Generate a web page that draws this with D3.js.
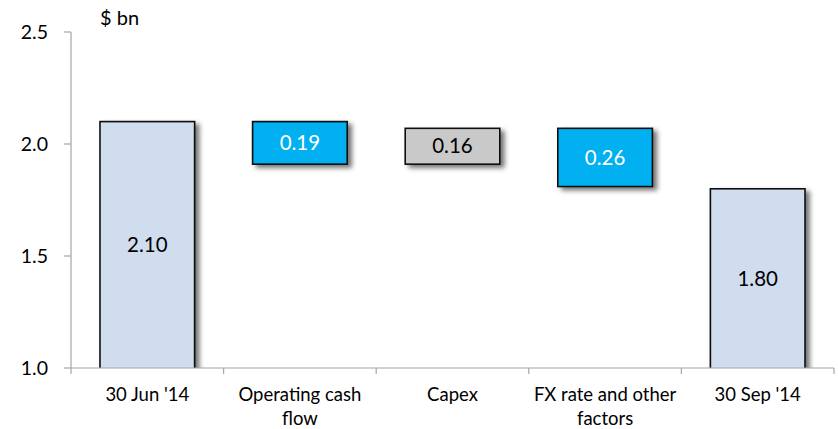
<!DOCTYPE html>
<html>
<head>
<meta charset="utf-8">
<script src="https://cdn.jsdelivr.net/npm/d3@7"></script>
<style>
  html, body { margin: 0; padding: 0; background: #fff; }
  svg text { font-family: Lato, "Open Sans", sans-serif; }
</style>
</head>
<body>
<svg id="chart" width="838" height="429"></svg>
<script>
// Cash bridge, $ bn
const categories = ["30 Jun '14", "Operating cash flow", "Capex", "FX rate and other factors", "30 Sep '14"];
const labelLines = [["30 Jun '14"], ["Operating cash", "flow"], ["Capex"], ["FX rate and other", "factors"], ["30 Sep '14"]];
const kinds = ["total", "down", "up", "down", "total"];
const values = [2.10, 0.19, 0.16, 0.26, 1.80];
const yTicks = [1.0, 1.5, 2.0, 2.5];
const fills = { total: "#CFDDEE", down: "#00B0F0", up: "#C9C9C9" };
const textFills = { total: "#000", down: "#fff", up: "#000" };

// Build floating segments from the running balance
let running = 0;
const bars = categories.map((c, i) => {
  const v = values[i], k = kinds[i];
  let lo, hi;
  if (k === "total") { lo = 1.0; hi = v; running = v; }
  else if (k === "down") { hi = running; lo = running - v; running = lo; }
  else { lo = running; hi = running + v; running = hi; }
  return { cat: c, lines: labelLines[i], kind: k, value: v, lo, hi };
});

const svg = d3.select("#chart");
const margin = { left: 71, right: 4, top: 32, bottom: 61 };
const W = 838, H = 429;

const x = d3.scaleBand().domain(categories).range([margin.left, W - margin.right]).paddingInner(0.38).paddingOuter(0.19);
const y = d3.scaleLinear().domain([1.0, 2.5]).range([H - margin.bottom, margin.top]);

// Soft drop shadow beneath each bar
const defs = svg.append("defs");
const f = defs.append("filter").attr("id", "shadow").attr("x", "-20%").attr("y", "-20%").attr("width", "150%").attr("height", "150%");
f.append("feGaussianBlur").attr("in", "SourceAlpha").attr("stdDeviation", 2.6).attr("result", "b");
f.append("feOffset").attr("in", "b").attr("dx", 4).attr("dy", 3).attr("result", "o");
f.append("feComponentTransfer").attr("in", "o").attr("result", "s")
  .append("feFuncA").attr("type", "linear").attr("slope", 0.55);
const m = f.append("feMerge");
m.append("feMergeNode").attr("in", "s");
m.append("feMergeNode").attr("in", "SourceGraphic");

const clip = defs.append("clipPath").attr("id", "plotclip");
clip.append("rect").attr("x", 0).attr("y", 0).attr("width", W).attr("height", y(1.0));

// Bars
const g = svg.append("g").attr("clip-path", "url(#plotclip)");
g.selectAll("rect.bar").data(bars).join("rect")
  .attr("class", "bar")
  .attr("x", d => x(d.cat))
  .attr("width", x.bandwidth())
  .attr("y", d => y(d.hi))
  .attr("height", d => y(d.lo) - y(d.hi) + (d.kind === "total" ? 6 : 0))
  .attr("fill", d => fills[d.kind])
  .attr("stroke", "#111")
  .attr("stroke-width", 1.6)
  .attr("filter", "url(#shadow)");

// Value labels
svg.selectAll("text.val").data(bars).join("text")
  .attr("class", "val")
  .attr("x", d => x(d.cat) + x.bandwidth() / 2)
  .attr("y", d => (y(d.lo) + y(d.hi)) / 2)
  .attr("dy", "0.35em")
  .attr("text-anchor", "middle")
  .attr("font-size", 20.5)
  .attr("fill", d => textFills[d.kind])
  .text(d => d.value.toFixed(2));

// Y axis
const axisColor = "#A6A6A6";
svg.append("line").attr("x1", margin.left).attr("x2", margin.left)
  .attr("y1", y(2.5)).attr("y2", y(1.0)).attr("stroke", axisColor).attr("stroke-width", 1.2);
svg.selectAll("line.ytick").data(yTicks).join("line")
  .attr("x1", margin.left - 7).attr("x2", margin.left)
  .attr("y1", d => y(d)).attr("y2", d => y(d))
  .attr("stroke", axisColor).attr("stroke-width", 1.2);
svg.selectAll("text.ylab").data(yTicks).join("text")
  .attr("x", 48).attr("y", d => y(d)).attr("dy", "0.35em")
  .attr("text-anchor", "end").attr("font-size", 19.5).attr("fill", "#000")
  .text(d => d.toFixed(1));

// X axis with boundary ticks between categories
svg.append("line").attr("x1", margin.left).attr("x2", W - margin.right)
  .attr("y1", y(1.0)).attr("y2", y(1.0)).attr("stroke", axisColor).attr("stroke-width", 1.2);
const span = (W - margin.right - margin.left) / categories.length;
svg.selectAll("line.xtick").data(d3.range(categories.length + 1)).join("line")
  .attr("x1", i => margin.left + i * span)
  .attr("x2", i => margin.left + i * span)
  .attr("y1", y(1.0)).attr("y2", y(1.0) + 6)
  .attr("stroke", axisColor).attr("stroke-width", 1.2);

// Category labels
const cl = svg.selectAll("text.cat").data(bars).join("text")
  .attr("class", "cat")
  .attr("text-anchor", "middle")
  .attr("font-size", 18.5)
  .attr("fill", "#000");
cl.selectAll("tspan").data(d => d.lines.map(l => ({ l, cx: x(d.cat) + x.bandwidth() / 2 }))).join("tspan")
  .attr("x", d => d.cx)
  .attr("y", (d, i) => 401 + i * 24)
  .text(d => d.l);

// Unit label
svg.append("text").attr("x", 100).attr("y", 25).attr("font-size", 20).attr("fill", "#000").text("$ bn");
</script>
</body>
</html>
